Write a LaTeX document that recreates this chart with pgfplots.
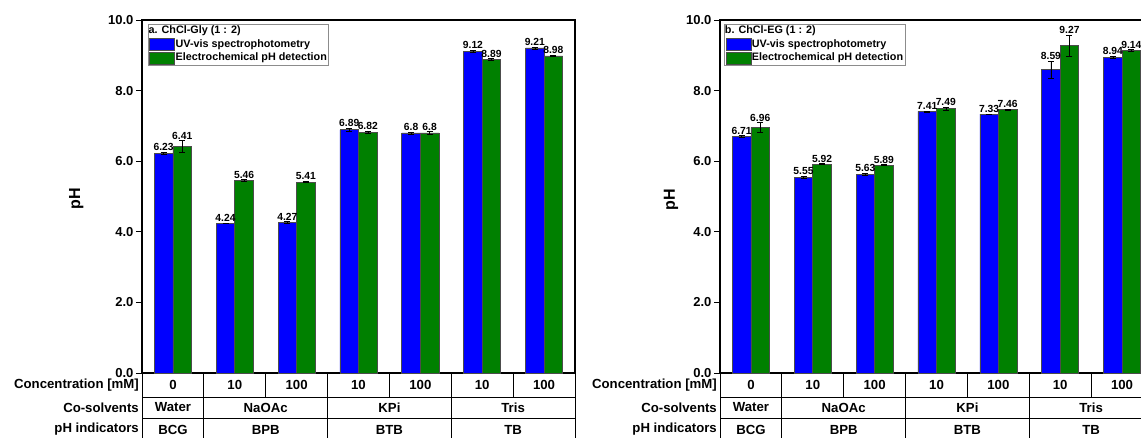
\documentclass[border=0pt]{standalone}
\usepackage{fontspec}
\setmainfont{Liberation Sans}
\usepackage{pgfplots}
\usepackage{pgfplotstable}
\pgfplotsset{compat=1.18}

\definecolor{uvblue}{RGB}{0,0,255}
\definecolor{ecgreen}{RGB}{0,128,0}

\pgfplotstableread{
x uv   uverr uvlab ec   ecerr eclab
0 6.23 0.02  6.23  6.41 0.17  6.41
1 4.24 0.01  4.24  5.46 0.02  5.46
2 4.27 0.02  4.27  5.41 0.02  5.41
3 6.89 0.04  6.89  6.82 0.04  6.82
4 6.80 0.03  6.8   6.80 0.04  6.8
5 9.12 0.02  9.12  8.89 0.02  8.89
6 9.21 0.03  9.21  8.98 0.02  8.98
}\gly

\pgfplotstableread{
x uv   uverr uvlab ec   ecerr eclab
0 6.71 0.02  6.71  6.96 0.13  6.96
1 5.55 0.03  5.55  5.92 0.01  5.92
2 5.63 0.03  5.63  5.89 0.01  5.89
3 7.41 0.01  7.41  7.49 0.05  7.49
4 7.33 0.01  7.33  7.46 0.01  7.46
5 8.59 0.25  8.59  9.27 0.31  9.27
6 8.94 0.03  8.94  9.14 0.02  9.14
}\eg

\pgfplotsset{
  panel/.style={
    scale only axis, width=433pt, height=353pt, anchor=south west,
    xmin=-0.5, xmax=6.5, ymin=0, ymax=10,
    xtick=\empty, ytick={0,2,4,6,8,10},
    tick pos=left, tick align=outside, major tick length=6pt,
    tick style={line width=0.8pt, black},
    axis line style={line width=1.1pt},
    yticklabel style={font=\fontsize{13}{13}\selectfont\bfseries, xshift=1pt,
      /pgf/number format/.cd, fixed, fixed zerofill, precision=1, assume math mode=true},
    ybar=0pt, bar width=0.3,
    clip=false,
    ylabel={pH},
    ylabel style={font=\fontsize{16}{16}\selectfont\bfseries, anchor=center},
    legend cell align=left,
    legend style={anchor=north west, draw=black!45, line width=0.6pt,
      font=\fontsize{10.8}{12}\selectfont\bfseries, inner xsep=1pt, inner ysep=1.5pt,
      row sep=1.4pt, nodes={inner sep=0.8pt}},
    nodes near coords, point meta=explicit symbolic,
    nodes near coords style={font=\fontsize{10.3}{11}\selectfont\bfseries, inner sep=1pt, anchor=south},
  },
  uvbar/.style={fill=uvblue, draw=black!70, line width=0.6pt, forget plot, bar shift=-0.15},
  ecbar/.style={fill=ecgreen, draw=black!70, line width=0.6pt, forget plot, bar shift=0.15},
  errbars/.style={error bars/.cd, y dir=both, y explicit,
    error bar style={line width=0.5pt, black},
    error mark options={rotate=90, mark size=3pt, line width=0.5pt, black}},
}
\tikzset{
  tbl/.style={line width=0.9pt, black},
  tbltext/.style={font=\fontsize{13.2}{14}\selectfont\bfseries, inner sep=0pt},
}

\newcommand{\bottomtable}{%
  \draw[tbl] ([yshift=-24pt]axis cs:-0.5,0) -- ([yshift=-24pt]axis cs:6.5,0);
  \draw[tbl] ([yshift=-45pt]axis cs:-0.5,0) -- ([yshift=-45pt]axis cs:6.5,0);
  \draw[tbl] ([yshift=-68pt]axis cs:-0.5,0) -- ([yshift=-68pt]axis cs:6.5,0);
  \draw[tbl] (axis cs:-0.5,0) -- ([yshift=-68pt]axis cs:-0.5,0);
  \draw[tbl] (axis cs:6.5,0) -- ([yshift=-68pt]axis cs:6.5,0);
  \draw[tbl] (axis cs:0.5,0) -- ([yshift=-24pt]axis cs:0.5,0);
  \draw[tbl] (axis cs:1.5,0) -- ([yshift=-24pt]axis cs:1.5,0);
  \draw[tbl] (axis cs:2.5,0) -- ([yshift=-24pt]axis cs:2.5,0);
  \draw[tbl] (axis cs:3.5,0) -- ([yshift=-24pt]axis cs:3.5,0);
  \draw[tbl] (axis cs:4.5,0) -- ([yshift=-24pt]axis cs:4.5,0);
  \draw[tbl] (axis cs:5.5,0) -- ([yshift=-24pt]axis cs:5.5,0);
  \draw[tbl] ([yshift=-24pt]axis cs:0.5,0) -- ([yshift=-68pt]axis cs:0.5,0);
  \draw[tbl] ([yshift=-24pt]axis cs:2.5,0) -- ([yshift=-68pt]axis cs:2.5,0);
  \draw[tbl] ([yshift=-24pt]axis cs:4.5,0) -- ([yshift=-68pt]axis cs:4.5,0);
  \node[tbltext, anchor=east] at ([xshift=-3pt,yshift=-12pt]axis cs:-0.5,0) {Concentration [mM]};
  \node[tbltext, anchor=east] at ([xshift=-3pt,yshift=-34.5pt]axis cs:-0.5,0) {Co-solvents};
  \node[tbltext, anchor=east] at ([xshift=-3pt,yshift=-56.5pt]axis cs:-0.5,0) {pH indicators};
  \node[tbltext] at ([yshift=-12pt]axis cs:0,0) {0};
  \node[tbltext] at ([yshift=-12pt]axis cs:1,0) {10};
  \node[tbltext] at ([yshift=-12pt]axis cs:2,0) {100};
  \node[tbltext] at ([yshift=-12pt]axis cs:3,0) {10};
  \node[tbltext] at ([yshift=-12pt]axis cs:4,0) {100};
  \node[tbltext] at ([yshift=-12pt]axis cs:5,0) {10};
  \node[tbltext] at ([yshift=-12pt]axis cs:6,0) {100};
  \node[tbltext] at ([yshift=-34.5pt]axis cs:0,0) {Water};
  \node[tbltext] at ([yshift=-34.5pt]axis cs:1.5,0) {NaOAc};
  \node[tbltext] at ([yshift=-34.5pt]axis cs:3.5,0) {KPi};
  \node[tbltext] at ([yshift=-34.5pt]axis cs:5.5,0) {Tris};
  \node[tbltext] at ([yshift=-56.5pt]axis cs:0,0) {BCG};
  \node[tbltext] at ([yshift=-56.5pt]axis cs:1.5,0) {BPB};
  \node[tbltext] at ([yshift=-56.5pt]axis cs:3.5,0) {BTB};
  \node[tbltext] at ([yshift=-56.5pt]axis cs:5.5,0) {TB};
}

\begin{document}
\begin{tikzpicture}
\useasboundingbox (0,0) rectangle (1141pt,438pt);

\begin{axis}[panel, at={(142pt,65pt)},
  ylabel style={at={(axis description cs:-0.152,0.493)}},
  legend style={at={(axis description cs:0.014,0.99)}}]
\addlegendimage{empty legend}\addlegendentry{\hspace{-27pt}a. ChCl-Gly (1 : 2)}
\addlegendimage{legend image code/.code={\draw[fill=uvblue,draw=black!70,line width=0.5pt] (0pt,-6pt) rectangle (25pt,6pt);}}
\addlegendentry{UV-vis spectrophotometry}
\addlegendimage{legend image code/.code={\draw[fill=ecgreen,draw=black!70,line width=0.5pt] (0pt,-6pt) rectangle (25pt,6pt);}}
\addlegendentry{Electrochemical pH detection}
\addplot[uvbar, visualization depends on={35.3*\thisrow{uverr} \as \eshift},
  nodes near coords style={yshift=\eshift pt}, errbars]
  table[x=x, y=uv, y error=uverr, meta=uvlab] {\gly};
\addplot[ecbar, visualization depends on={35.3*\thisrow{ecerr} \as \eshift},
  nodes near coords style={yshift=\eshift pt}, errbars]
  table[x=x, y=ec, y error=ecerr, meta=eclab] {\gly};
\bottomtable
\end{axis}

\begin{axis}[panel, at={(720pt,65pt)},
  ylabel style={at={(axis description cs:-0.113,0.49)}},
  legend style={at={(axis description cs:0.01,0.99)}}]
\addlegendimage{empty legend}\addlegendentry{\hspace{-27pt}b. ChCl-EG (1 : 2)}
\addlegendimage{legend image code/.code={\draw[fill=uvblue,draw=black!70,line width=0.5pt] (0pt,-6pt) rectangle (25pt,6pt);}}
\addlegendentry{UV-vis spectrophotometry}
\addlegendimage{legend image code/.code={\draw[fill=ecgreen,draw=black!70,line width=0.5pt] (0pt,-6pt) rectangle (25pt,6pt);}}
\addlegendentry{Electrochemical pH detection}
\addplot[uvbar, visualization depends on={35.3*\thisrow{uverr} \as \eshift},
  nodes near coords style={yshift=\eshift pt}, errbars]
  table[x=x, y=uv, y error=uverr, meta=uvlab] {\eg};
\addplot[ecbar, visualization depends on={35.3*\thisrow{ecerr} \as \eshift},
  nodes near coords style={yshift=\eshift pt}, errbars]
  table[x=x, y=ec, y error=ecerr, meta=eclab] {\eg};
\bottomtable
\end{axis}
\end{tikzpicture}
\end{document}
